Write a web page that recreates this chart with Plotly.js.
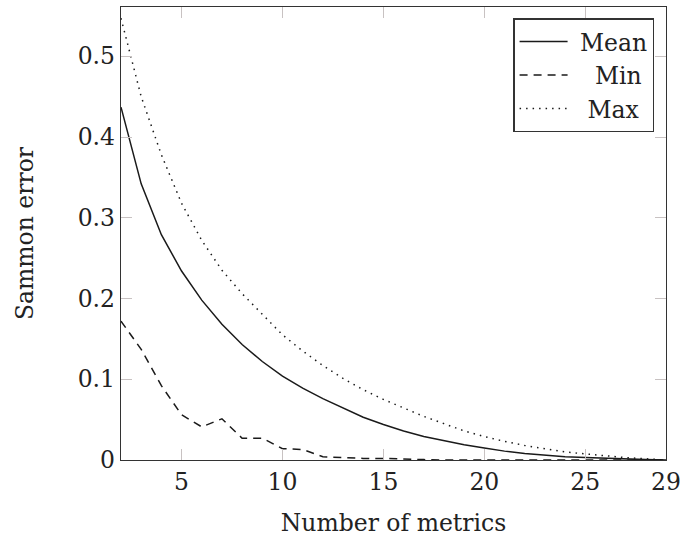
<!DOCTYPE html>
<html>
<head>
<meta charset="utf-8">
<script src="https://cdn.plot.ly/plotly-3.0.1.min.js"></script>
<style>html,body{margin:0;padding:0;background:#fff;}#chart{width:681px;height:538px;}</style>
</head>
<body>
<div id="chart"></div>
<script>
const metrics = [2,3,4,5,6,7,8,9,10,11,12,13,14,15,16,17,18,19,20,21,22,23,24,25,26,27,28,29];
const meanErr = [0.437,0.342,0.279,0.234,0.198,0.168,0.143,0.122,0.104,0.089,0.076,0.064,0.053,0.044,0.036,0.029,0.024,0.019,0.015,0.011,0.008,0.006,0.004,0.003,0.002,0.001,0.0005,0.0];
const minErr = [0.172,0.137,0.092,0.056,0.041,0.051,0.027,0.027,0.014,0.013,0.004,0.003,0.002,0.002,0.001,0.0005,0,0,0,0,0,0,0,0,0,0,0,0];
const maxErr = [0.547,0.45,0.378,0.318,0.272,0.235,0.206,0.18,0.155,0.135,0.117,0.101,0.087,0.075,0.064,0.054,0.045,0.036,0.029,0.023,0.018,0.014,0.010,0.0075,0.005,0.003,0.0015,0.0];
const seriesNames = ['Mean', 'Min', 'Max'];
const xTicks = [5,10,15,20,25,29];
const yTicks = [0,0.1,0.2,0.3,0.4,0.5];
const yTickText = ['0','0.1','0.2','0.3','0.4','0.5'];

const FONT = 'DejaVu Serif, Liberation Serif, serif';
const FS = 23.5;
const ink = '#1a1a1a';
const pad = n => '\u00a0'.repeat(n);

const traces = [
  {x: metrics, y: meanErr, name: pad(1) + seriesNames[0], mode: 'lines', line: {color: ink, width: 1.5}},
  {x: metrics, y: minErr, name: pad(3) + seriesNames[1], mode: 'lines', line: {color: ink, width: 1.5, dash: '8px,6px'}},
  {x: metrics, y: maxErr, name: pad(2) + seriesNames[2], mode: 'lines', line: {color: ink, width: 1.5, dash: '1.5px,5px'}}
];

const axisCommon = {
  showgrid: false, zeroline: false,
  showline: true, linecolor: '#333', linewidth: 1.3,
  mirror: 'ticks', ticks: 'inside', ticklen: 11, tickwidth: 1, tickcolor: '#c8c2c2',
  tickfont: {family: FONT, size: FS, color: '#222'}
};

const layout = {
  width: 681, height: 538,
  margin: {l: 121, r: 15, t: 7, b: 78},
  paper_bgcolor: '#fff', plot_bgcolor: '#fff',
  font: {family: FONT, color: '#222'},
  showlegend: true,
  legend: {
    x: 0.9785, xanchor: 'right', y: 0.975, yanchor: 'top',
    bordercolor: '#333', borderwidth: 1.3, bgcolor: '#fff',
    font: {family: FONT, size: FS, color: '#222'},
    tracegroupgap: 0, itemwidth: 48
  },
  xaxis: Object.assign({}, axisCommon, {
    range: [2, 29], tickmode: 'array', tickvals: xTicks,
    title: {text: 'Number of metrics', font: {family: FONT, size: FS, color: '#222'}, standoff: 20}
  }),
  yaxis: Object.assign({}, axisCommon, {
    range: [0, 0.561], tickmode: 'array', tickvals: yTicks, ticktext: yTickText,
    title: {text: 'Sammon error', font: {family: FONT, size: FS, color: '#222'}, standoff: 37}
  })
};

Plotly.newPlot('chart', traces, layout, {staticPlot: true, displayModeBar: false});
</script>
</body>
</html>
